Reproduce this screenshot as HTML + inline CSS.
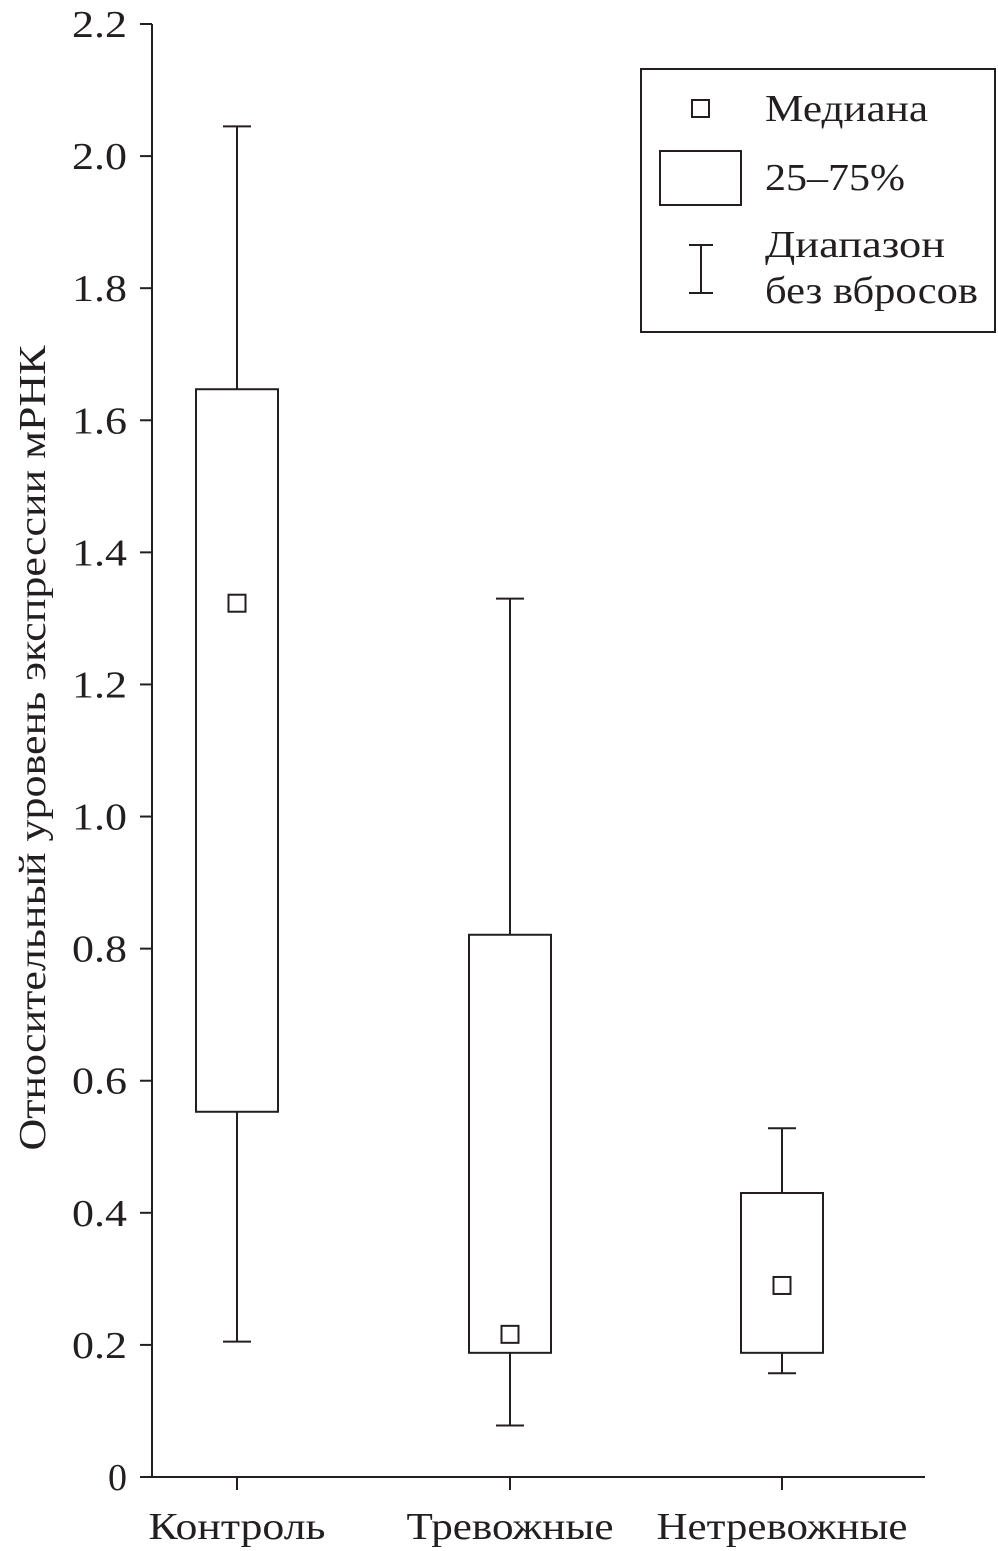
<!DOCTYPE html>
<html><head><meta charset="utf-8"><style>
html,body{margin:0;padding:0;background:#fff}
svg{display:block;font-family:"Liberation Serif","DejaVu Serif",serif}
</style></head><body>
<svg id="chart" width="998" height="1551" viewBox="0 0 998 1551" xmlns="http://www.w3.org/2000/svg">
<g id="axes"></g>
<g id="marks"></g>
<text transform="translate(45,748) rotate(-90)" text-anchor="middle" font-size="38" fill="#231f20" textLength="805" lengthAdjust="spacingAndGlyphs">Относительный уровень экспрессии мРНК</text>
<g>
<rect x="641" y="69" width="354" height="263" fill="#fff" stroke="#231f20" stroke-width="2"/>
<rect x="692" y="100" width="17" height="17" fill="#fff" stroke="#231f20" stroke-width="2"/>
<text x="765" y="121" font-size="38" fill="#231f20" textLength="163" lengthAdjust="spacingAndGlyphs">Медиана</text>
<rect x="660" y="151" width="81" height="54" fill="#fff" stroke="#231f20" stroke-width="2"/>
<text x="765" y="190" font-size="38" fill="#231f20" textLength="140" lengthAdjust="spacingAndGlyphs">25–75%</text>
<path d="M689 245H713M701 245V293M689 293H713" stroke="#231f20" stroke-width="2" fill="none"/>
<text x="765" y="257" font-size="38" fill="#231f20" textLength="180" lengthAdjust="spacingAndGlyphs">Диапазон</text>
<text x="765" y="303" font-size="38" fill="#231f20" textLength="213" lengthAdjust="spacingAndGlyphs">без вбросов</text>
</g>
</svg>
<script>
const categories=["Контроль","Тревожные","Нетревожные"];
const whiskerLow=[0.205,0.078,0.157];
const q1=[0.553,0.188,0.188];
const median=[1.323,0.216,0.29];
const q3=[1.647,0.821,0.43];
const whiskerHigh=[2.045,1.33,0.528];
const yTicks=[0,0.2,0.4,0.6,0.8,1.0,1.2,1.4,1.6,1.8,2.0,2.2];
const yTickLabels=["0","0.2","0.4","0.6","0.8","1.0","1.2","1.4","1.6","1.8","2.0","2.2"];

const NS="http://www.w3.org/2000/svg";
const y0=1477,y1=24,vmax=2.2;
function y(v){return y0-(v/vmax)*(y0-y1);}
const xs=[237,510,782];
const catWidths=[177,207,251];
function x(i){return xs[i];}
const C="#231f20";
function mk(tag,attrs,parent){const e=document.createElementNS(NS,tag);for(const k in attrs)e.setAttribute(k,attrs[k]);parent.appendChild(e);return e;}
const ax=document.getElementById('axes'),mg=document.getElementById('marks');
let e=mk('line',{x1:152,y1:y(0),x2:152,y2:y(2.2),stroke:C,'stroke-width':2},ax);


e=mk('line',{x1:151,y1:y(0),x2:925,y2:y(0),stroke:C,'stroke-width':2},ax);


yTicks.forEach((t,i)=>{
 const l=mk('line',{x1:140,y1:y(t),x2:152,y2:y(t),stroke:C,'stroke-width':2},ax);
 
 
 const lab=yTickLabels[i];
 const tx=mk('text',{x:127,y:y(t)+13,'text-anchor':'end','font-size':38,fill:C,textLength:lab.length>1?55:19,lengthAdjust:'spacingAndGlyphs'},ax);
 tx.textContent=lab;
 
 
});
categories.forEach((c,i)=>{
 const l=mk('line',{x1:x(i),y1:y(0),x2:x(i),y2:y(0)+13,stroke:C,'stroke-width':2},ax);
 
 
 const tx=mk('text',{x:x(i),y:1539,'text-anchor':'middle','font-size':38,fill:C,textLength:catWidths[i],lengthAdjust:'spacingAndGlyphs'},ax);
 tx.textContent=c;
 
 
 const cx=x(i),hw=41,cw=14;
 const w=mk('path',{d:`M${cx-cw} ${y(whiskerHigh[i])}H${cx+cw}M${cx} ${y(whiskerHigh[i])}V${y(whiskerLow[i])}M${cx-cw} ${y(whiskerLow[i])}H${cx+cw}`,stroke:C,'stroke-width':2,fill:'none'},mg);
 
 
 const b=mk('rect',{x:cx-hw,y:y(q3[i]),width:2*hw,height:y(q1[i])-y(q3[i]),fill:'#fff',stroke:C,'stroke-width':2},mg);
 
 
 const m=mk('rect',{x:cx-8.5,y:y(median[i])-8.5,width:17,height:17,fill:'#fff',stroke:C,'stroke-width':2},mg);
 
 
});
</script>
</body></html>
